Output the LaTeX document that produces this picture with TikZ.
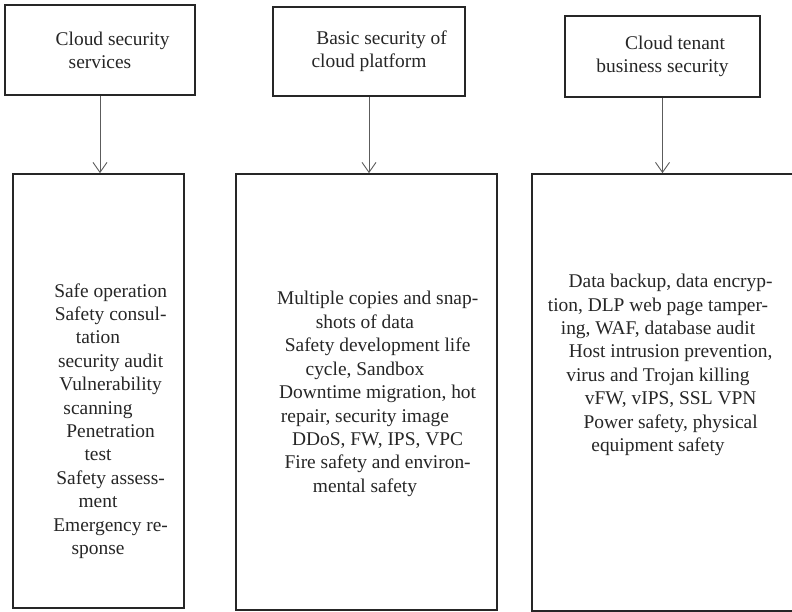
\documentclass[tikz,border=0pt]{standalone}
\usepackage{fontspec}
\setmainfont{Liberation Serif}
\usetikzlibrary{arrows.meta}
\definecolor{ink}{HTML}{262626}
\definecolor{wire}{HTML}{5C5C5C}
\newcommand{\ind}[1]{\hspace*{1.3em}#1}

\begin{document}
\begin{tikzpicture}[x=1bp,y=-1bp,
  headbox/.style={draw=ink,line width=1.7bp,align=center,text=ink,inner sep=0,
    font=\fontsize{19.5}{23}\selectfont},
  listbox/.style={draw=ink,line width=1.7bp,inner sep=0},
  listtext/.style={align=center,text=ink,inner sep=0,
    font=\fontsize{19.5}{23.5}\selectfont},
  feed/.style={draw=wire,line width=0.9bp,-{Straight Barb[length=10bp,width=14bp]}}]
  \clip (0,0) rectangle (792,612);
  \fill[white] (0,0) rectangle (792,612);
  % top row
  \node[headbox,minimum width=190bp,minimum height=90bp] (svc) at (100,50)
    {\ind{Cloud security}\\services};
  \node[headbox,minimum width=192bp,minimum height=89bp] (plat) at (369,51.5)
    {\ind{Basic security of}\\cloud platform};
  \node[headbox,minimum width=195bp,minimum height=81bp] (tenant) at (662.5,56.5)
    {\ind{Cloud tenant}\\business security};
  % bottom row
  \node[listbox,minimum width=171bp,minimum height=434bp] (svclist) at (98.5,391) {};
  \node[listbox,minimum width=261bp,minimum height=436bp] (platlist) at (366.5,392) {};
  \node[listbox,minimum width=283bp,minimum height=437bp] (tenantlist) at (673.5,392.5) {};
  \node[listtext] (svctext) at (98,421) {\ind{Safe operation}\\\ind{Safety consul-}\\tation\\
    \ind{security audit}\\\ind{Vulnerability}\\scanning\\\ind{Penetration}\\test\\
    \ind{Safety assess-}\\ment\\\ind{Emergency re-}\\sponse};
  \node[listtext] (plattext) at (365,394) {\ind{Multiple copies and snap-}\\shots of data\\
    \ind{Safety development life}\\cycle, Sandbox\\\ind{Downtime migration, hot}\\
    repair, security image\\\ind{DDoS, FW, IPS, VPC}\\\ind{Fire safety and environ-}\\
    mental safety};
  \node[listtext] (tenanttext) at (658,365) {\ind{Data backup, data encryp-}\\
    tion, DLP web page tamper-\\ing, WAF, database audit\\\ind{Host intrusion prevention,}\\
    virus and Trojan killing\\\ind{vFW, vIPS, SSL VPN}\\\ind{Power safety, physical}\\
    equipment safety};
  % connectors
  \draw[feed] (svc.south) -- (svc.south |- svclist.north);
  \draw[feed] (plat.south) -- (plat.south |- platlist.north);
  \draw[feed] (tenant.south) -- (tenant.south |- tenantlist.north);
\end{tikzpicture}
\end{document}
